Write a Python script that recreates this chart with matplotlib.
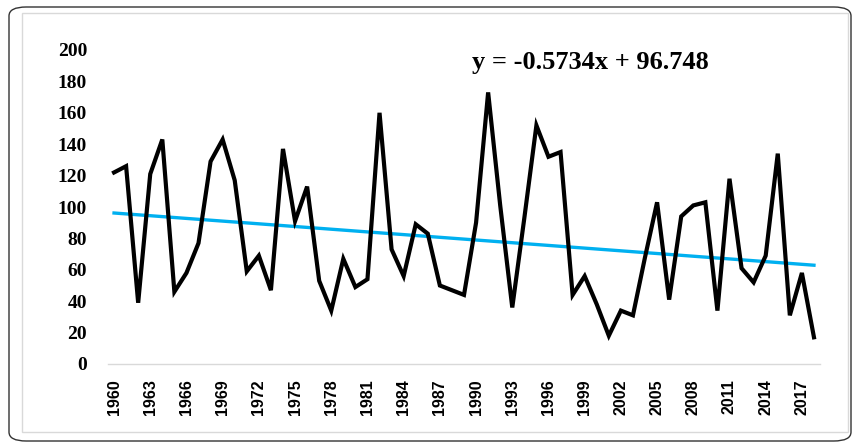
import matplotlib
matplotlib.use("Agg")
import matplotlib.pyplot as plt
from matplotlib.patches import FancyBboxPatch, Rectangle
import numpy as np

years = list(range(1960, 2019))
values = [122, 126, 39, 121, 143, 46, 58, 77, 129, 143,
          117, 59, 69, 47, 137, 91, 113, 53, 34, 67,
          49, 54, 160, 73, 56, 89, 83, 50, 47, 44,
          90, 173, 101, 36, 93, 152, 132, 135, 44, 56,
          38, 18, 34, 31, 68, 103, 41, 94, 101, 103,
          34, 118, 61, 52, 69, 134, 31, 58, 17]
tick_years = list(range(1960, 2018, 3))
y_ticks = list(range(0, 201, 20))
slope = -0.5734
intercept = 96.748
equation = "y = -0.5734x + 96.748"

W, H = 860, 447
fig = plt.figure(figsize=(W / 100, H / 100), dpi=100)

# outer rounded black frame and inner grey chart-area frame
fig.patches.append(FancyBboxPatch((9 / W, 6 / H), 842 / W, 434 / H,
                                  boxstyle="round,pad=0,rounding_size=0.02",
                                  transform=fig.transFigure, fill=False,
                                  edgecolor="#333333", linewidth=1.0))
fig.patches.append(Rectangle((22 / W, 15 / H), 826 / W, 419 / H,
                             transform=fig.transFigure, fill=False,
                             edgecolor="#d9d9d9", linewidth=1.0))

ax = fig.add_axes([108 / W, 1 - 364 / H, (820 - 108) / W, (364 - 50) / H])
x = np.array(years)
ax.plot(x, values, color="black", linewidth=3.0, solid_joinstyle="miter", zorder=3)
idx = np.arange(1, len(years) + 1)
ax.plot(x, slope * idx + intercept, color="#00B0F0", linewidth=2.4, zorder=2)

ax.set_xlim(years[0] - 0.5, years[-1] + 0.5)
ax.set_ylim(0, 200)
for s in ["top", "right", "left"]:
    ax.spines[s].set_visible(False)
ax.spines["bottom"].set_color("#d9d9d9")
ax.spines["bottom"].set_linewidth(1.0)

ax.set_xticks(tick_years)
ax.set_xticklabels([str(t) for t in tick_years], rotation=90,
                   fontfamily="Liberation Sans", fontweight="bold", fontsize=11.5)
ax.set_yticks(y_ticks)
ax.set_yticklabels([str(t) for t in y_ticks], fontfamily="Liberation Serif",
                   fontweight="bold", fontsize=14)
ax.tick_params(axis="x", length=0, pad=11)
ax.tick_params(axis="y", length=0, pad=15)

fig.text(472 / W, 1 - 62 / H, equation, ha="left", va="center",
         fontfamily="Liberation Serif", fontweight="bold", fontsize=19)

fig.savefig("out.png", dpi=100)
